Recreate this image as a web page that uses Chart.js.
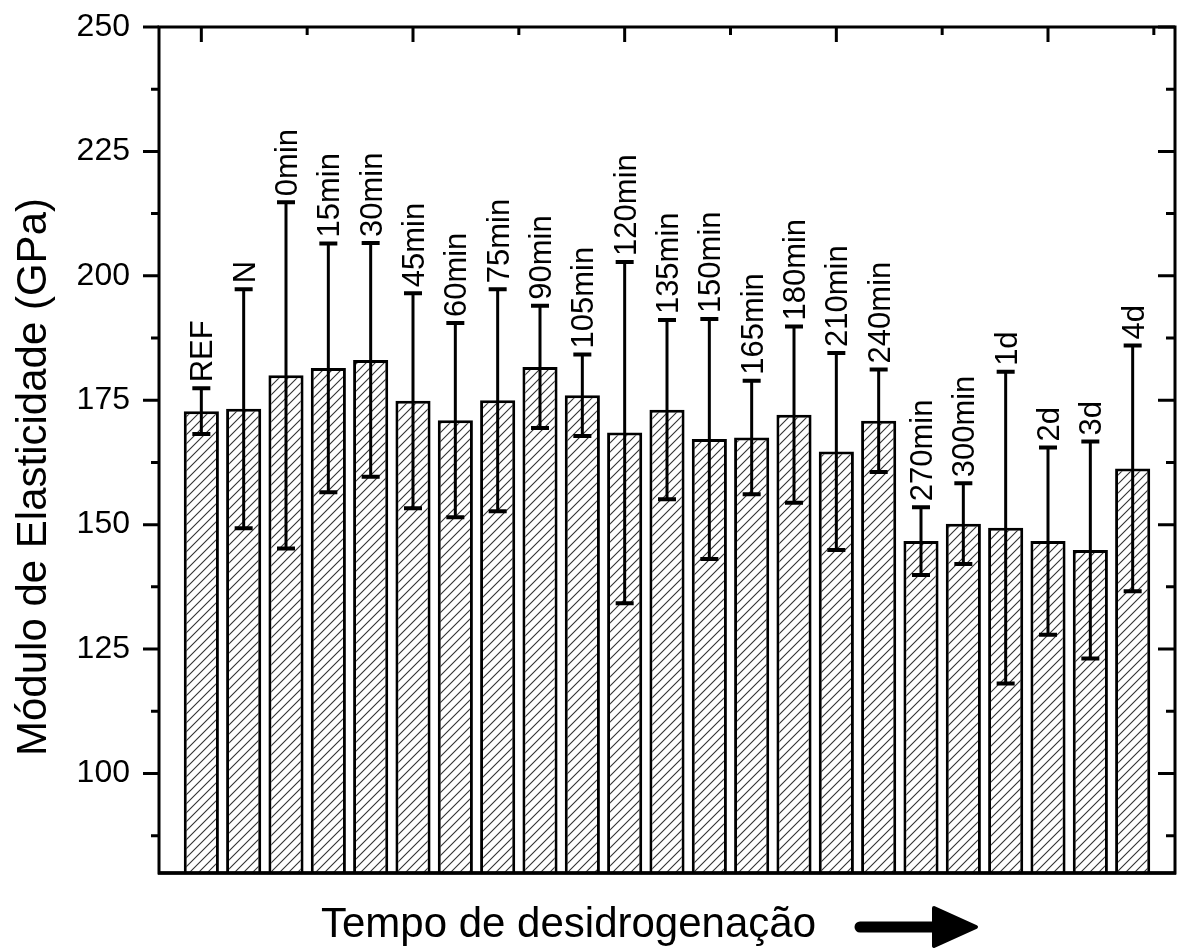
<!DOCTYPE html>
<html>
<head>
<meta charset="utf-8">
<script src="https://cdn.jsdelivr.net/npm/chart.js@4.4.0/dist/chart.umd.min.js"></script>
<style>
  html, body { margin: 0; padding: 0; background: #fff; }
  #wrap { width: 1177px; height: 950px; }
</style>
</head>
<body>
<div id="wrap"><canvas id="modulus-chart" width="1177" height="950"></canvas></div>
<script>
// Elastic modulus per dehydrogenation time (mean and standard deviation, GPa)
const categories = ['REF', 'N', '0min', '15min', '30min', '45min', '60min', '75min', '90min',
  '105min', '120min', '135min', '150min', '165min', '180min', '210min', '240min',
  '270min', '300min', '1d', '2d', '3d', '4d'];
const means = [172.8, 173.3, 180.0, 181.5, 183.1, 174.9, 171.0, 175.0, 181.7,
  176.0, 168.5, 173.1, 167.2, 167.5, 172.1, 164.7, 170.9,
  146.7, 150.2, 149.4, 146.7, 144.9, 161.3];
const errors = [4.6, 24.0, 34.8, 25.0, 23.5, 21.6, 19.5, 22.3, 12.3,
  8.2, 34.3, 18.0, 24.1, 11.4, 17.7, 19.8, 10.3,
  6.8, 8.1, 31.3, 18.8, 21.8, 24.7];

const yTickValues = [100, 125, 150, 175, 200, 225, 250];
const yMinorTicks = [87.5, 112.5, 137.5, 162.5, 187.5, 212.5, 237.5];
const topMajorTicks = [1, 6, 11, 16, 21];
const topMinorTicks = [3.5, 8.5, 13.5, 18.5, 23.5];

const FONT = "'Liberation Sans', Arial, sans-serif";

// diagonal "/" hatch used to fill the bars
function makeHatch() {
  const s = 9;
  const c = document.createElement('canvas');
  c.width = s; c.height = s;
  const g = c.getContext('2d');
  g.fillStyle = '#fff';
  g.fillRect(0, 0, s, s);
  g.strokeStyle = '#333';
  g.lineWidth = 1.1;
  g.beginPath();
  g.moveTo(0, s); g.lineTo(s, 0);
  g.moveTo(-1, 1); g.lineTo(1, -1);
  g.moveTo(s - 1, s + 1); g.lineTo(s + 1, s - 1);
  g.stroke();
  return g.createPattern(c, 'repeat');
}

// error bars, bar labels, frame with ticks and the axis titles
const decorations = {
  id: 'decorations',
  afterDatasetsDraw(chart) {
    const { ctx, chartArea: a, scales: { x, y } } = chart;
    ctx.save();
    ctx.strokeStyle = '#000';
    ctx.fillStyle = '#000';

    // error bars
    means.forEach((m, i) => {
      const px = x.getPixelForValue(i + 1);
      const top = y.getPixelForValue(m + errors[i]);
      const bot = y.getPixelForValue(m - errors[i]);
      ctx.lineWidth = 3;
      ctx.beginPath();
      ctx.moveTo(px, top); ctx.lineTo(px, bot);
      ctx.stroke();
      ctx.lineWidth = 4;
      ctx.beginPath();
      ctx.moveTo(px - 9, top); ctx.lineTo(px + 9, top);
      ctx.moveTo(px - 9, bot); ctx.lineTo(px + 9, bot);
      ctx.stroke();
    });

    // rotated labels above the error bars
    ctx.font = '31px ' + FONT;
    ctx.textAlign = 'left';
    ctx.textBaseline = 'alphabetic';
    categories.forEach((label, i) => {
      const px = x.getPixelForValue(i + 1);
      const top = y.getPixelForValue(means[i] + errors[i]);
      ctx.save();
      ctx.translate(px + 11, top - 6);
      ctx.rotate(-Math.PI / 2);
      ctx.fillText(label, 0, 0);
      ctx.restore();
    });

    // frame
    ctx.lineWidth = 3;
    ctx.strokeRect(a.left, a.top, a.right - a.left, a.bottom - a.top);
    ctx.lineWidth = 3.5;
    ctx.beginPath();
    ctx.moveTo(a.left - 1, a.bottom); ctx.lineTo(a.right + 1, a.bottom);
    ctx.stroke();

    // ticks: left outward, right and top inward
    ctx.lineWidth = 3;
    ctx.beginPath();
    yTickValues.forEach(v => {
      const py = y.getPixelForValue(v);
      ctx.moveTo(a.left - 16, py); ctx.lineTo(a.left, py);
      ctx.moveTo(a.right - 17, py); ctx.lineTo(a.right, py);
    });
    yMinorTicks.forEach(v => {
      const py = y.getPixelForValue(v);
      ctx.moveTo(a.left - 8, py); ctx.lineTo(a.left, py);
      ctx.moveTo(a.right - 9, py); ctx.lineTo(a.right, py);
    });
    topMajorTicks.forEach(v => {
      const px = x.getPixelForValue(v);
      ctx.moveTo(px, a.top); ctx.lineTo(px, a.top + 15);
    });
    topMinorTicks.forEach(v => {
      const px = x.getPixelForValue(v);
      ctx.moveTo(px, a.top); ctx.lineTo(px, a.top + 8);
    });
    ctx.stroke();

    // axis titles
    ctx.font = '42px ' + FONT;
    ctx.textAlign = 'center';
    ctx.save();
    ctx.translate(46, 477);
    ctx.rotate(-Math.PI / 2);
    ctx.fillText('Módulo de Elasticidade (GPa)', 0, 0);
    ctx.restore();

    ctx.textAlign = 'left';
    ctx.fillText('Tempo de desidrogenação', 321, 937);

    // arrow after the x title
    ctx.lineCap = 'round';
    ctx.lineJoin = 'round';
    ctx.lineWidth = 11;
    ctx.beginPath();
    ctx.moveTo(860, 927); ctx.lineTo(940, 927);
    ctx.stroke();
    ctx.lineWidth = 4;
    ctx.beginPath();
    ctx.moveTo(934, 908);
    ctx.lineTo(976, 927);
    ctx.lineTo(934, 946);
    ctx.closePath();
    ctx.fill();
    ctx.stroke();

    ctx.restore();
  }
};

const ctx = document.getElementById('modulus-chart').getContext('2d');

new Chart(ctx, {
  type: 'bar',
  data: {
    datasets: [{
      data: means.map((m, i) => ({ x: i + 1, y: m })),
      backgroundColor: makeHatch(),
      borderColor: '#000',
      borderWidth: 3,
      borderSkipped: 'start',
      categoryPercentage: 1,
      barPercentage: 0.83
    }]
  },
  options: {
    responsive: false,
    devicePixelRatio: 1,
    animation: false,
    layout: { padding: { top: 27, right: 2, bottom: 77, left: 0 } },
    scales: {
      x: {
        type: 'linear',
        display: false,
        offset: false,
        min: 0,
        max: 24
      },
      y: {
        min: 80,
        max: 250,
        afterBuildTicks: scale => {
          scale.ticks = yTickValues.map(v => ({ value: v }));
        },
        afterFit: scale => {
          scale.width = 159;
          scale.paddingTop = 0;
          scale.paddingBottom = 0;
        },
        grid: { drawOnChartArea: false, drawTicks: false },
        border: { display: false },
        ticks: {
          padding: 29,
          color: '#000',
          font: { family: FONT, size: 32 }
        }
      }
    },
    plugins: {
      legend: { display: false },
      tooltip: { enabled: false }
    }
  },
  plugins: [decorations]
});
</script>
</body>
</html>
